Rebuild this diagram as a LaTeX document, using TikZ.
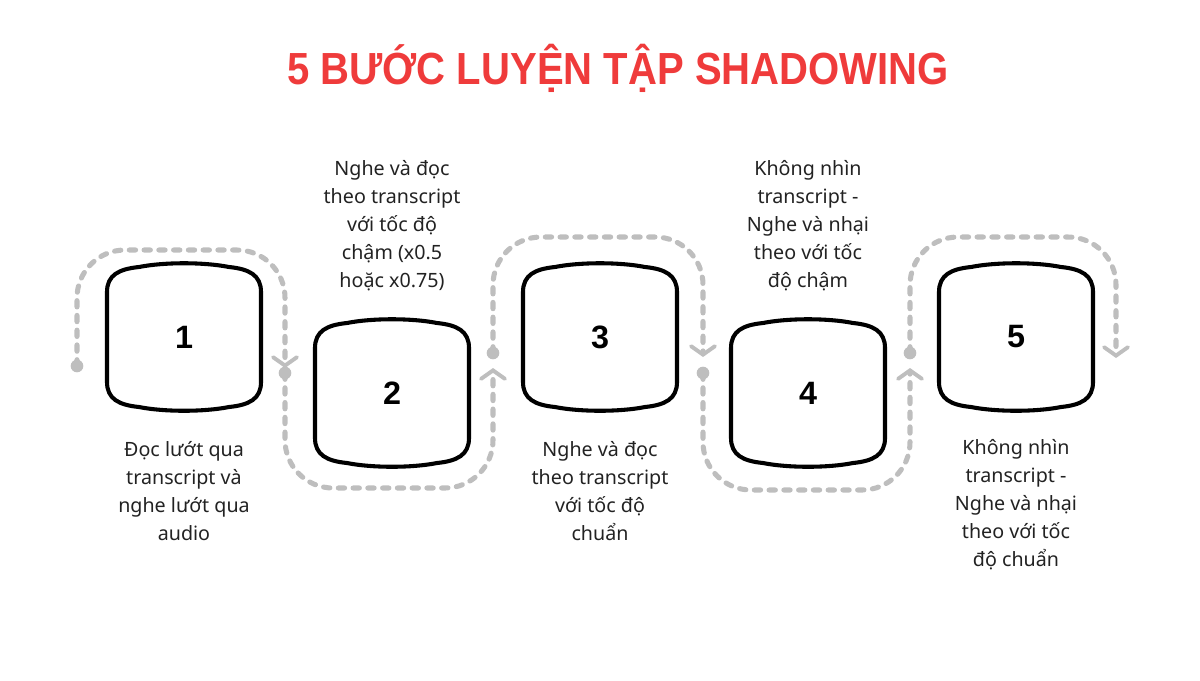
\documentclass[tikz,border=0pt]{standalone}
\usepackage{fontspec}
\setmainfont{Noto Sans}
\newfontfamily\titlefont{Liberation Sans}
\usetikzlibrary{arrows.meta}
\definecolor{titlered}{RGB}{239,59,59}
\definecolor{flowgray}{RGB}{190,190,190}
\definecolor{textdark}{RGB}{34,34,34}

\begin{document}
\begin{tikzpicture}[x=0.025cm, y=-0.025cm,
    flow/.style={draw=flowgray, line width=3.6pt, line cap=round, dash pattern=on 4.5pt off 6pt,
        rounded corners=1.2cm, -{Straight Barb[length=6pt,width=17pt,line width=2.8pt,line cap=round]}},
    dot/.style={circle, fill=flowgray, inner sep=0pt, minimum size=9pt},
    steptext/.style={align=center, text=textdark, font=\fontsize{14}{19.85}\selectfont},
    stepnum/.style={font=\titlefont\fontsize{23}{24}\selectfont\bfseries, text=black}]
    \useasboundingbox (0,0) rectangle (1200,680);

    % title
    \node[font=\titlefont\fontsize{32}{36}\selectfont\bfseries, text=titlered] at (618,68) (title)
        {\scalebox{0.89}[1]{5 BƯỚC LUYỆN TẬP SHADOWING}};

    % boxes
    \foreach \i/\x/\y in {1/184/337, 2/392/393, 3/600/337, 4/808/393, 5/1016/337} {
        \node[stepnum] at (\x,\y) (s\i) {\i};
        \draw[line width=2.9pt, shift={(\x,\y)}] (-77,0) -- (-77,-45)
            .. controls (-77,-62) and (-65,-68) .. (-45,-70)
            .. controls (-20,-75) and (20,-75) .. (45,-70)
            .. controls (65,-68) and (77,-62) .. (77,-45) -- (77,45)
            .. controls (77,62) and (65,68) .. (45,70)
            .. controls (20,75) and (-20,75) .. (-45,70)
            .. controls (-65,68) and (-77,62) .. (-77,45) -- cycle;
    }

    % dashed flow
    \coordinate (u1) at (180,250);
    \coordinate (u2) at (390,488);
    \coordinate (u3) at (600,237);
    \coordinate (u4) at (806,490);
    \coordinate (u5) at (1013,237);
    \coordinate (a1) at (285,368);
    \coordinate (a2) at (493,368);
    \coordinate (a3) at (703,357);
    \coordinate (a4) at (910,368);
    \coordinate (a5) at (1116,358);
    \draw[flow] (77,366) coordinate (p0) |- (u1) -| (a1);
    \draw[flow] (285,373) coordinate (p1) |- (u2) -| (a2);
    \draw[flow] (493,353) coordinate (p2) |- (u3) -| (a3);
    \draw[flow] (703,373) coordinate (p3) |- (u4) -| (a4);
    \draw[flow] (910,353) coordinate (p4) |- (u5) -| (a5);
    \foreach \i in {0,...,4}
        \node[dot] at (p\i) (d\i) {};

    % texts
    \node[steptext] at (392,226) (t2) {Nghe và đọc\\theo transcript\\với tốc độ\\chậm (x0.5\\hoặc x0.75)};
    \node[steptext] at (808,226) (t4) {Không nhìn\\transcript -\\Nghe và nhại\\theo với tốc\\độ chậm};
    \node[steptext] at (184,491) (t1) {Đọc lướt qua\\transcript và\\nghe lướt qua\\audio};
    \node[steptext] at (600,491) (t3) {Nghe và đọc\\theo transcript\\với tốc độ\\chuẩn};
    \node[steptext] at (1016,505) (t5) {Không nhìn\\transcript -\\Nghe và nhại\\theo với tốc\\độ chuẩn};
\end{tikzpicture}
\end{document}
